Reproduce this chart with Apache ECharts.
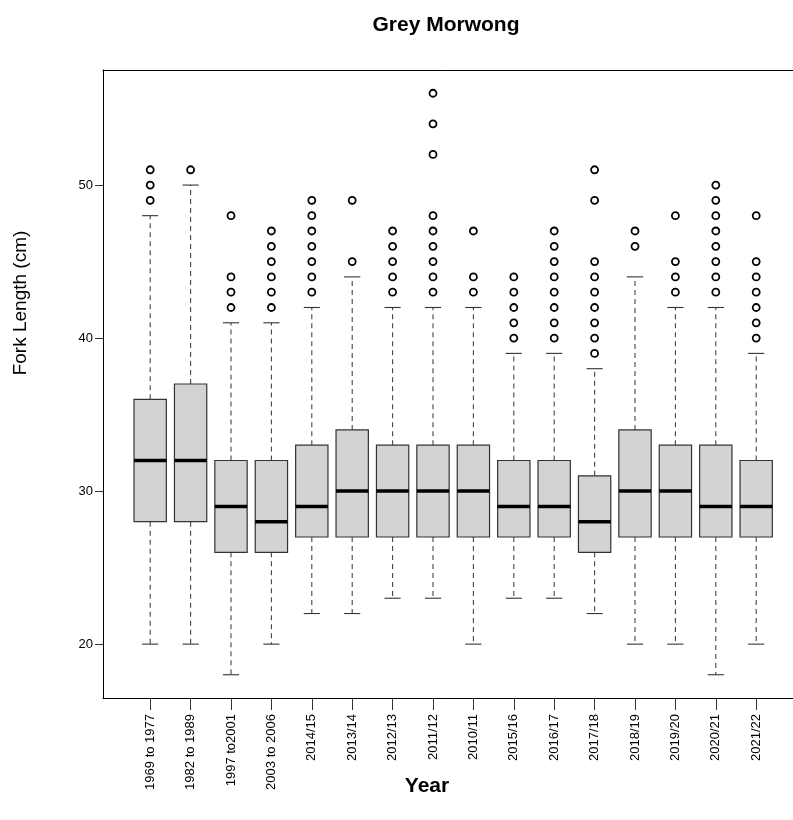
<!DOCTYPE html>
<html>
<head>
<meta charset="utf-8">
<title>Grey Morwong</title>
<script src="https://cdn.jsdelivr.net/npm/echarts@6/dist/echarts.min.js"></script>
<style>
  html, body { margin: 0; padding: 0; background: #fff; }
  #chart { width: 793px; height: 820px; }
</style>
</head>
<body>
<div id="chart"></div>
<script>
// Fork length (cm) summaries per sampling period
const categories = ['1969 to 1977', '1982 to 1989', '1997 to2001', '2003 to 2006', '2014/15', '2013/14',
  '2012/13', '2011/12', '2010/11', '2015/16', '2016/17', '2017/18', '2018/19', '2019/20', '2020/21', '2021/22'];
const lowerWhisker = [20, 20, 18, 20, 22, 22, 23, 23, 20, 23, 23, 22, 20, 20, 18, 20];
const lowerQuartile = [28, 28, 26, 26, 27, 27, 27, 27, 27, 27, 27, 26, 27, 27, 27, 27];
const medians = [32, 32, 29, 28, 29, 30, 30, 30, 30, 29, 29, 28, 30, 30, 29, 29];
const upperQuartile = [36, 37, 32, 32, 33, 34, 33, 33, 33, 32, 32, 31, 34, 33, 33, 32];
const upperWhisker = [48, 50, 41, 41, 42, 44, 42, 42, 42, 39, 39, 38, 44, 42, 42, 39];
const outliers = [
  [49, 50, 51],
  [51],
  [42, 43, 44, 48],
  [42, 43, 44, 45, 46, 47],
  [43, 44, 45, 46, 47, 48, 49],
  [45, 49],
  [43, 44, 45, 46, 47],
  [43, 44, 45, 46, 47, 48, 52, 54, 56],
  [43, 44, 47],
  [40, 41, 42, 43, 44],
  [40, 41, 42, 43, 44, 45, 46, 47],
  [39, 40, 41, 42, 43, 44, 45, 49, 51],
  [46, 47],
  [43, 44, 45, 48],
  [43, 44, 45, 46, 47, 48, 49, 50],
  [40, 41, 42, 43, 44, 45, 48]
];
const yTicks = [20, 30, 40, 50];
const yMin = 16.48, yMax = 57.52;

const FONT = '"Liberation Sans", Arial, Helvetica, sans-serif';

const boxData = categories.map((c, i) => [i, lowerWhisker[i], lowerQuartile[i], medians[i], upperQuartile[i], upperWhisker[i]]);
const outlierData = [];
outliers.forEach((list, i) => list.forEach(v => outlierData.push([i, v])));

function renderBox(params, api) {
  const i = api.value(0);
  const lo = api.coord([i, api.value(1)]);
  const q1 = api.coord([i, api.value(2)]);
  const md = api.coord([i, api.value(3)]);
  const q3 = api.coord([i, api.value(4)]);
  const hi = api.coord([i, api.value(5)]);
  const band = api.size([1, 0])[0];
  const bw = band * 0.8;
  const cw = bw * 0.5;
  const x = md[0];
  const dash = { stroke: '#444', lineWidth: 1.1, lineDash: [5, 4] };
  const cap = { stroke: '#333', lineWidth: 1.1 };
  return {
    type: 'group',
    children: [
      { type: 'line', shape: { x1: x, y1: q3[1], x2: x, y2: hi[1] }, style: dash },
      { type: 'line', shape: { x1: x, y1: q1[1], x2: x, y2: lo[1] }, style: dash },
      { type: 'line', shape: { x1: x - cw / 2, y1: hi[1], x2: x + cw / 2, y2: hi[1] }, style: cap },
      { type: 'line', shape: { x1: x - cw / 2, y1: lo[1], x2: x + cw / 2, y2: lo[1] }, style: cap },
      { type: 'rect', shape: { x: x - bw / 2, y: q3[1], width: bw, height: q1[1] - q3[1] },
        style: { fill: '#d3d3d3', stroke: '#333', lineWidth: 1.2 } },
      { type: 'line', shape: { x1: x - bw / 2, y1: md[1], x2: x + bw / 2, y2: md[1] },
        style: { stroke: '#000', lineWidth: 3.5 } }
    ]
  };
}

const frameLine = { show: true, lineStyle: { color: '#000', width: 1 } };

const chart = echarts.init(document.getElementById('chart'), null, { renderer: 'canvas' });
chart.setOption({
  backgroundColor: '#fff',
  animation: false,
  textStyle: { fontFamily: FONT },
  grid: [
    // plotting frame with the y axis (runs past the right edge)
    { left: 103, top: 70, width: 698, height: 628 },
    // band area holding the boxes
    { left: 130, top: 70, width: 646.4, height: 628 }
  ],
  xAxis: [
    { gridIndex: 0, type: 'value', min: 0, max: 1, position: 'bottom',
      axisLine: frameLine, axisTick: { show: false }, axisLabel: { show: false }, splitLine: { show: false } },
    {
      gridIndex: 1, type: 'category', data: categories, boundaryGap: true,
      axisLine: { show: false },
      axisTick: { show: true, alignWithLabel: true, length: 12, lineStyle: { color: '#333', width: 1 } },
      axisLabel: { rotate: 90, margin: 16, fontSize: 13, color: '#000', fontFamily: FONT, interval: 0 },
      splitLine: { show: false }
    },
    { gridIndex: 0, type: 'value', min: 0, max: 1, position: 'top',
      axisLine: frameLine, axisTick: { show: false }, axisLabel: { show: false }, splitLine: { show: false } }
  ],
  yAxis: [
    {
      gridIndex: 0, type: 'value', min: yMin, max: yMax,
      axisLine: frameLine,
      axisTick: { show: true, length: 8, customValues: yTicks, lineStyle: { color: '#333' } },
      axisLabel: { customValues: yTicks, margin: 10, fontSize: 13, color: '#000', fontFamily: FONT },
      splitLine: { show: false }
    },
    { gridIndex: 1, type: 'value', min: yMin, max: yMax, show: false, splitLine: { show: false } }
  ],
  series: [
    {
      type: 'custom', xAxisIndex: 1, yAxisIndex: 1,
      renderItem: renderBox,
      encode: { x: 0, y: [1, 2, 3, 4, 5] },
      data: boxData,
      z: 2
    },
    {
      type: 'scatter', xAxisIndex: 1, yAxisIndex: 1,
      data: outlierData,
      symbol: 'circle', symbolSize: 7,
      itemStyle: { color: 'rgba(0,0,0,0)', borderColor: '#000', borderWidth: 1.8, opacity: 1 },
      z: 3
    }
  ],
  graphic: [
    { type: 'text', x: 446, y: 25,
      style: { text: 'Grey Morwong', align: 'center', verticalAlign: 'middle',
        font: 'bold 21px ' + FONT, fill: '#000' } },
    { type: 'text', x: 427, y: 786,
      style: { text: 'Year', align: 'center', verticalAlign: 'middle', font: 'bold 21px ' + FONT, fill: '#000' } },
    { type: 'text', x: 21, y: 303, rotation: Math.PI / 2,
      style: { text: 'Fork Length (cm)', align: 'center', verticalAlign: 'middle', font: '19px ' + FONT, fill: '#000' } }
  ]
});
</script>
</body>
</html>
